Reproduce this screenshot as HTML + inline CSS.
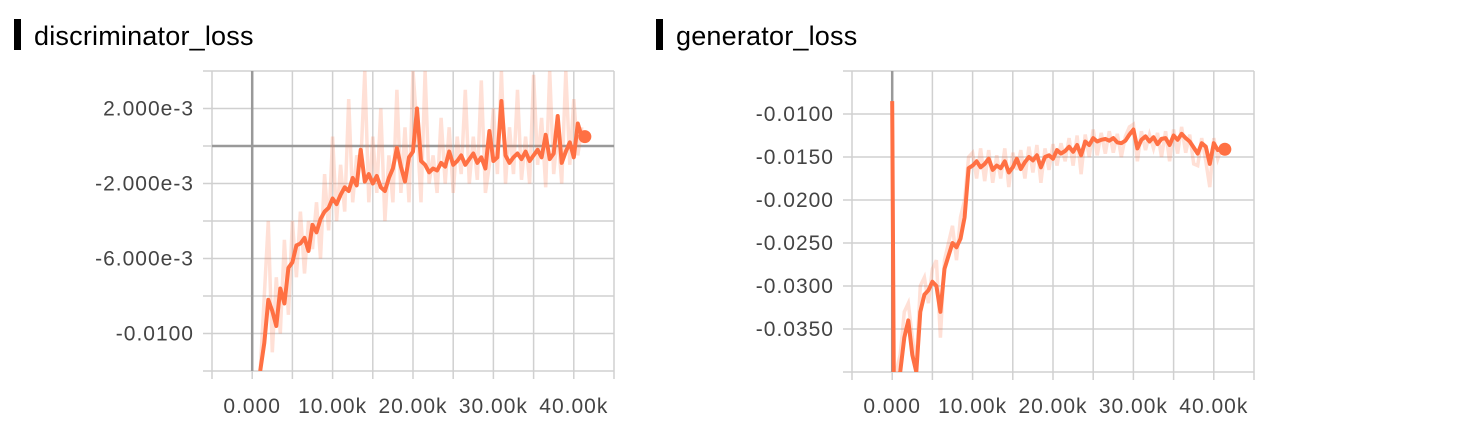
<!DOCTYPE html>
<html><head><meta charset="utf-8"><style>
html,body{margin:0;padding:0;background:#fff;width:1468px;height:430px;overflow:hidden;font-family:"Liberation Sans",sans-serif}
svg{position:absolute;left:0;top:0}
</style></head><body>
<svg id="svg" width="1468" height="430"></svg>
<script>
// ---- discriminator data (values in 1e-3 units) ----
const discSteps=[1000,1500,2000,2500,3000,3500,4000,4500,5000,5500,6000,6500,7000,7500,8000,8500,9000,9500,10000,10500,11000,11500,12000,12500,13000,13500,14000,14500,15000,15500,16000,16500,17000,17500,18000,18500,19000,19500,20000,20500,21000,21500,22000,22500,23000,23500,24000,24500,25000,25500,26000,26500,27000,27500,28000,28500,29000,29500,30000,30500,31000,31500,32000,32500,33000,33500,34000,34500,35000,35500,36000,36500,37000,37500,38000,38500,39000,39500,40000,40500,41000];
const discSmooth=[-12,-10.5,-8.2,-8.8,-9.6,-7.6,-8.4,-6.5,-6.2,-5.3,-5.2,-4.9,-5.6,-4.2,-4.6,-3.9,-3.5,-3.3,-2.8,-3.1,-2.6,-2.2,-2.4,-1.7,-2.1,-0.2,-1.9,-1.5,-2.0,-1.6,-2.2,-2.4,-1.7,-1.2,-0.1,-1.1,-1.9,-0.6,-0.3,2.0,-0.8,-1.0,-1.4,-1.2,-1.3,-0.9,-1.1,-0.3,-1.0,-0.8,-0.5,-1.0,-0.7,-0.4,-0.9,-0.6,-1.2,0.8,-0.8,-0.6,2.4,-0.5,-0.9,-0.6,-0.4,-0.7,-0.3,-0.8,-0.5,-0.2,-0.6,0.6,-0.7,-0.4,1.6,-0.9,-0.3,0.2,-0.6,1.2,0.5];
const discRaw=[-12,-8,-4,-11,-7,-10,-5,-9,-4,-7,-3.5,-6.8,-4,-5.5,-3,-6,-1.5,-4.5,0.5,-4,-1,-3.5,2.5,-3,-0.5,-1,4,-3,0.5,-2.5,2,-4,-0.5,-3,3,-2.5,1,-3,4,1,-3,4,-2,-0.5,-2.5,1.5,-2,1,-2.5,0.5,-1.5,3,-2,0.5,-1.8,3.5,-2.5,-1,2,-1.5,4,-2,1,-1.5,3,-1.8,0.5,-2,3.8,-1,1.5,-2.2,4,-1.5,0.8,-2,4,-1,2.5,-0.5,1];
const discYTicks=[2,-2,-6,-10];
const discYTickLabels=["2.000e-3","-2.000e-3","-6.000e-3","-0.0100"];
// ---- generator data (values in 1e-3 units) ----
const genSteps=[0,200,1000,1500,2000,2500,3000,3500,4000,4500,5000,5500,6000,6500,7000,7500,8000,8500,9000,9500,10000,10500,11000,11500,12000,12500,13000,13500,14000,14500,15000,15500,16000,16500,17000,17500,18000,18500,19000,19500,20000,20500,21000,21500,22000,22500,23000,23500,24000,24500,25000,25500,26000,26500,27000,27500,28000,28500,29000,29500,30000,30500,31000,31500,32000,32500,33000,33500,34000,34500,35000,35500,36000,36500,37000,37500,38000,38500,39000,39500,40000,40500,41000];
const genSmooth=[-8.5,-41,-40,-36,-34,-38,-40,-33,-31,-30.5,-29.5,-30,-33,-28,-26.5,-25,-25.5,-24.5,-22,-16.3,-16.0,-15.5,-16.2,-15.8,-15.2,-16.5,-16.0,-16.3,-15.5,-16.8,-16.2,-15.2,-16.4,-15.6,-15.0,-15.4,-14.8,-16.2,-15.0,-14.8,-15.2,-14.2,-14.6,-14.3,-13.8,-14.4,-13.6,-14.8,-13.2,-13.6,-12.8,-13.2,-13.0,-12.9,-13.1,-12.8,-13.3,-13.4,-13.1,-12.4,-11.8,-14.0,-13.0,-12.6,-13.2,-12.7,-13.5,-12.9,-12.8,-13.6,-12.5,-13.0,-12.3,-12.8,-13.2,-13.9,-14.6,-13.4,-13.8,-15.8,-13.4,-14.2,-14.1];
const genRaw=[-8.5,-41,-38,-33,-32,-36,-39,-30,-29,-32,-28,-27,-36,-27,-25,-23,-27,-22,-20,-15,-14.5,-17.5,-14,-17.8,-14.2,-18,-14.8,-17.5,-14,-18.5,-14.5,-16.5,-14.2,-17.5,-13.8,-16.8,-13.6,-18,-14,-16.5,-13.5,-16,-13.4,-15.5,-12.8,-16,-12.5,-17,-12.4,-15,-11.8,-14.8,-12.2,-14.6,-12,-14.5,-12.3,-15,-12.6,-11.5,-11.2,-15.5,-12,-14.2,-12.4,-14,-12.2,-15,-12,-15.5,-11.8,-14.6,-11.5,-14.5,-12.4,-15.8,-16,-12.8,-15.5,-18.5,-12.8,-15.2,-13.8];
const genYTicks=[-10,-15,-20,-25,-30,-35];
const genYTickLabels=["-0.0100","-0.0150","-0.0200","-0.0250","-0.0300","-0.0350"];
const xTicks=[0,10000,20000,30000,40000];
const xTickLabels=["0.000","10.00k","20.00k","30.00k","40.00k"];

const NS="http://www.w3.org/2000/svg";
const svg=document.getElementById('svg');
function mk(tag,attrs,parent){const e=document.createElementNS(NS,tag);for(const k in attrs)e.setAttribute(k,attrs[k]);(parent||svg).appendChild(e);return e;}

function chart(o){
  const g=mk('g',{});
  
  
  const X=v=>o.x0+(v-o.xmin)/(o.xmax-o.xmin)*(o.x1-o.x0);
  const Y=v=>o.y1-(v-o.ymin)/(o.ymax-o.ymin)*(o.y1-o.y0);
  const bar=mk('rect',{x:o.tx,y:19,width:7,height:31,fill:'#000'},g);
  
  
  const t=mk('text',{x:o.tx+20,y:45,'font-size':27,'letter-spacing':0.2,fill:'#000'},g);t.textContent=o.title;
  
  
  for(let v=o.ymin;v<=o.ymax+1e-9;v+=o.ystep){
    const l=mk('line',{x1:o.x0-9,x2:o.x1,y1:Y(v),y2:Y(v),stroke:'#d0d0d0','stroke-width':1.5},g);
    
    
  }
  for(let v=-5000;v<=45000;v+=5000){
    const l=mk('line',{x1:X(v),x2:X(v),y1:o.y0,y2:o.y1+8,stroke:'#d0d0d0','stroke-width':1.5},g);
    
    
  }
  const za=mk('line',{x1:X(0),x2:X(0),y1:o.y0,y2:o.y1,stroke:'#999','stroke-width':2.5},g);
  
  
  if(o.ymin<0&&o.ymax>0){
    const zy=mk('line',{x1:o.x0,x2:o.x1,y1:Y(0),y2:Y(0),stroke:'#999','stroke-width':2.5},g);
    
    
  }
  o.yt.forEach((v,i)=>{const tx=mk('text',{x:o.x0-18,y:Y(v)+7,'font-size':21,'letter-spacing':1,fill:'#444','text-anchor':'end'},g);tx.textContent=o.ytl[i];
    
    });
  xTicks.forEach((v,i)=>{const tx=mk('text',{x:X(v),y:413,'font-size':21,'letter-spacing':1,fill:'#444','text-anchor':'middle'},g);tx.textContent=xTickLabels[i];
    
    });
  const cid='clip'+o.name;
  const cp=mk('clipPath',{id:cid},g);mk('rect',{x:o.x0,y:o.y0,width:o.x1-o.x0+20,height:o.y1-o.y0},cp);
  const pr=o.steps.map((s,i)=>X(s).toFixed(1)+','+Y(o.raw[i]).toFixed(1)).join(' ');
  const rl=mk('polyline',{points:pr,fill:'none',stroke:'#ff7043','stroke-opacity':0.22,'stroke-width':3.5,'clip-path':'url(#'+cid+')'},g);
  
  
  const ps=o.steps.map((s,i)=>X(s).toFixed(1)+','+Y(o.sm[i]).toFixed(1)).join(' ');
  const sl=mk('polyline',{points:ps,fill:'none',stroke:'#ff7043','stroke-width':4,'stroke-linejoin':'round','clip-path':'url(#'+cid+')'},g);
  
  
  const n=o.steps.length-1;
  const d=mk('circle',{cx:X(o.steps[n])+3,cy:Y(o.sm[n]),r:6.5,fill:'#ff7043'},g);
  
  
}
chart({name:'discriminator-loss-chart',title:'discriminator_loss',tx:14,x0:212,x1:614,xmin:-5000,xmax:45000,y0:71,y1:371,ymin:-12,ymax:4,ystep:2,yt:discYTicks,ytl:discYTickLabels,steps:discSteps,sm:discSmooth,raw:discRaw});
chart({name:'generator-loss-chart',title:'generator_loss',tx:656,x0:852,x1:1254,xmin:-5000,xmax:45000,y0:71,y1:372,ymin:-40,ymax:-5,ystep:5,yt:genYTicks,ytl:genYTickLabels,steps:genSteps,sm:genSmooth,raw:genRaw});
</script>
</body></html>
